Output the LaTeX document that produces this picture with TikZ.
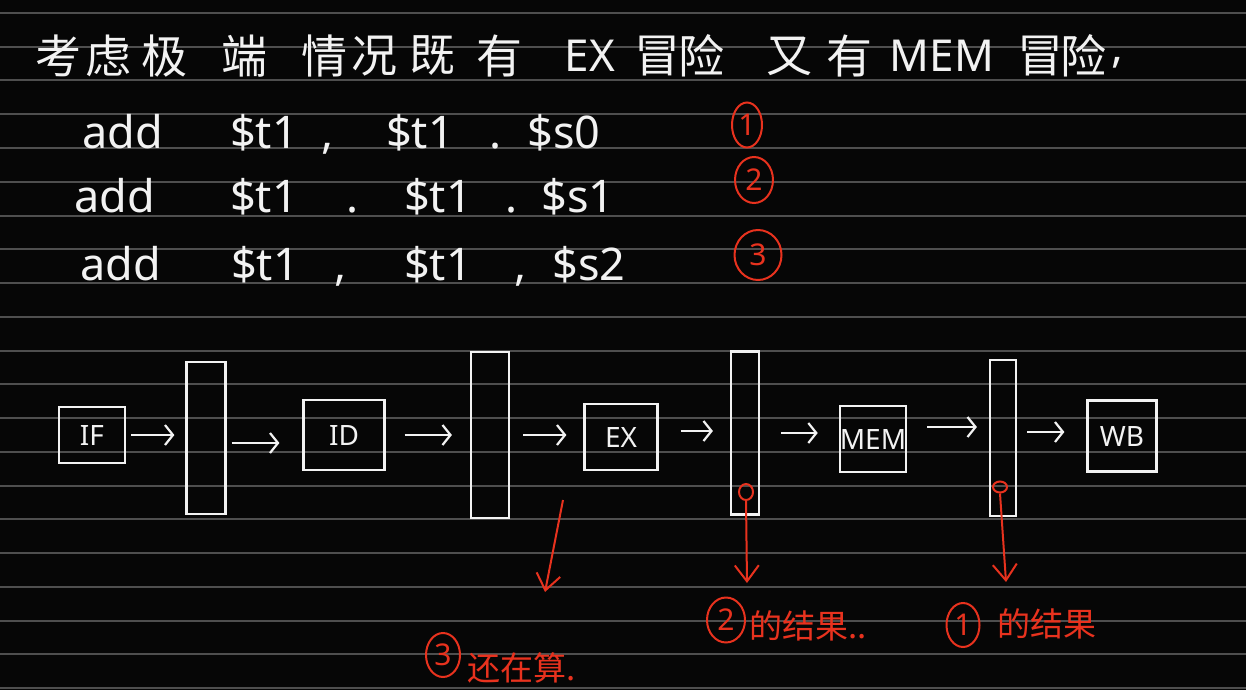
\documentclass[tikz,border=0pt]{standalone}
\usepackage{fontspec}
\setmainfont{Noto Sans}
\newfontfamily\cjk{Noto Sans CJK SC}
\usetikzlibrary{arrows.meta,shapes.geometric,calc}
\definecolor{bg}{HTML}{060606}
\definecolor{rulec}{HTML}{4E4E4E}
\definecolor{ink}{HTML}{F2F2F2}
\definecolor{redink}{HTML}{E8321E}
\begin{document}
\begin{tikzpicture}[x=1pt,y=-1pt,
  titlecjk/.style={text=ink,font=\cjk\fontsize{46}{50}\selectfont,inner sep=0,anchor=center},
  titlelat/.style={text=ink,font=\fontsize{44}{48}\selectfont,inner sep=0,anchor=center},
  code/.style={text=ink,font=\fontsize{45}{48}\selectfont,inner sep=0,anchor=base},
  stage/.style={draw=ink,line width=2.2pt,text=ink,font=\fontsize{28}{30}\selectfont,inner sep=0},
  reg/.style={draw=ink,line width=2.2pt,inner sep=0},
  arr/.style={draw=ink,line width=2.2pt,-{Straight Barb[length=8pt,width=20pt]}},
  rednum/.style={ellipse,draw=redink,line width=2pt,text=redink,font=\fontsize{30}{32}\selectfont,inner sep=0},
  redcirc/.style={ellipse,draw=redink,line width=2pt,inner sep=0},
  redarr/.style={draw=redink,line width=2pt,-{Straight Barb[length=16pt,width=24pt]}},
  redtext/.style={text=redink,font=\cjk\fontsize{33}{35}\selectfont,inner sep=0,anchor=base west}]
\useasboundingbox (0,0) rectangle (1246,690);
\fill[bg] (0,0) rectangle (1246,690);
\foreach \k in {0,...,20}
  \draw[rulec,line width=2pt] (0,{13+33.75*\k}) -- (1246,{13+33.75*\k});
% title
\foreach \c/\x [count=\i] in {考/58,虑/108,极/164,端/244,情/324,况/374,既/432,有/499,冒/657,险/701,又/789,有/849,冒/1040,险/1083}
  \node[titlecjk] (t\i) at (\x,56) {\c};
\node[titlelat] (tEX) at (590,56) {EX};
\node[titlelat] (tMEM) at (942,56) {MEM};
\node[titlelat] (tcomma) at (1117,63) {,};
% code lines
\node[code] (a1) at (123,148) {add};
\node[code] (a1o1) at (264,148) {\$t1};
\node[code] (a1s1) at (328,148) {,};
\node[code] (a1o2) at (420,148) {\$t1};
\node[code] (a1s2) at (496,148) {.};
\node[code] (a1o3) at (564,148) {\$s0};
\node[code] (a2) at (115,212) {add};
\node[code] (a2o1) at (264,212) {\$t1};
\node[code] (a2s1) at (353,212) {.};
\node[code] (a2o2) at (438,212) {\$t1};
\node[code] (a2s2) at (512,212) {.};
\node[code] (a2o3) at (578,212) {\$s1};
\node[code] (a3) at (121,280) {add};
\node[code] (a3o1) at (265,280) {\$t1};
\node[code] (a3s1) at (341,280) {,};
\node[code] (a3o2) at (438,280) {\$t1};
\node[code] (a3s2) at (521,280) {,};
\node[code] (a3o3) at (589,280) {\$s2};
\node[rednum,minimum width=30,minimum height=45] (m1) at (747,125) {1};
\node[rednum,minimum width=38,minimum height=46] (m2) at (754,180) {2};
\node[rednum,minimum width=47,minimum height=50] (m3) at (758,255) {3};
% pipeline
\node[stage,minimum width=66,minimum height=56] (IF) at (92,435) {IF};
\node[reg,minimum width=39,minimum height=152] (R1) at (206,438) {};
\node[stage,minimum width=81,minimum height=70] (ID) at (344,435) {ID};
\node[reg,minimum width=38,minimum height=166] (R2) at (490,435) {};
\node[stage,minimum width=73,minimum height=66] (EX) at (621,437) {EX};
\node[reg,minimum width=28,minimum height=163] (R3) at (745,433) {};
\node[stage,minimum width=66,minimum height=66] (MEM) at (873,439) {MEM};
\node[reg,minimum width=26,minimum height=156] (R4) at (1003,438) {};
\node[stage,minimum width=69,minimum height=71] (WB) at (1122,436) {WB};
\draw[arr,shorten <=5,shorten >=11] (IF.east) -- (IF.east -| R1.west);
\draw[arr,shorten <=5,shorten >=23] ($(R1.east)+(0,5)$) -- ($(R1.east -| ID.west)+(0,5)$);
\draw[arr,shorten <=19,shorten >=18] (ID.east) -- (ID.east -| R2.west);
\draw[arr,shorten <=13,shorten >=17] (R2.east) -- (R2.east -| EX.west);
\draw[arr,shorten <=22,shorten >=17] ($(EX.east)+(0,-6)$) -- ($(EX.east -| R3.west)+(0,-6)$);
\draw[arr,shorten <=21,shorten >=21] (R3.east) -- (R3.east -| MEM.west);
\draw[arr,shorten <=20,shorten >=12] ($(MEM.east)+(0,-12)$) -- ($(MEM.east -| R4.west)+(0,-12)$);
\draw[arr,shorten <=10,shorten >=22] ($(R4.east)+(0,-6)$) -- ($(R4.east -| WB.west)+(0,-6)$);
% red annotations
\node[redcirc,minimum width=14,minimum height=16] (c3) at (746,492) {};
\node[redcirc,minimum width=14,minimum height=11] (c4) at (1000,487) {};
\coordinate (s1) at (563,500);
\coordinate (e1) at (545,592);
\coordinate (e2) at (747,583);
\coordinate (e3) at (1006,582);
\draw[redarr] (s1) -- (e1);
\draw[redarr] (c3.south) -- (e2);
\draw[redarr] (c4.south) -- (e3);
\node[rednum,minimum width=34,minimum height=44] (n3) at (443,655) {3};
\node[redtext] (l1) at (467,680) {还在算.};
\node[rednum,minimum width=38,minimum height=45] (n2) at (726,620) {2};
\node[redtext] (l2) at (749,638) {的结果..};
\node[rednum,minimum width=33,minimum height=44] (n1) at (963,625) {1};
\node[redtext] (l3) at (997,636) {的结果};
\end{tikzpicture}
\end{document}
